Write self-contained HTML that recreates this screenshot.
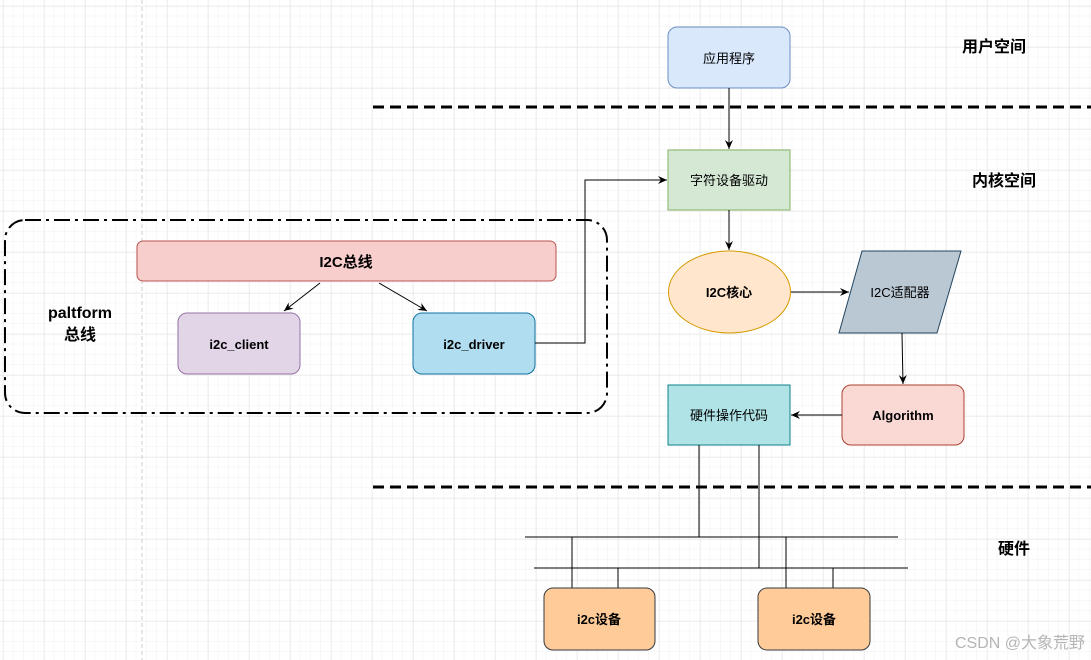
<!DOCTYPE html>
<html><head><meta charset="utf-8"><style>
html,body{margin:0;padding:0;background:#fff;}
svg{display:block;font-family:"Liberation Sans","Noto Sans CJK SC",sans-serif;}
</style></head><body>
<svg width="1091" height="660" viewBox="0 0 1091 660" xmlns="http://www.w3.org/2000/svg">
<defs>
<pattern id="minor" x="3" y="6" width="10.25" height="10.25" patternUnits="userSpaceOnUse"><path d="M10.25 0V10.25M0 10.25H10.25" stroke="#f1f1f1" stroke-width="1" fill="none"/></pattern>
<pattern id="major" x="3" y="6" width="41" height="41" patternUnits="userSpaceOnUse"><path d="M0 0V41M0 0H41" stroke="#e3e3e3" stroke-width="1" fill="none"/></pattern>
<marker id="ar" markerWidth="10" markerHeight="10" refX="9" refY="5" orient="auto" markerUnits="userSpaceOnUse"><path d="M0,1 L9,5 L0,9 L3,5 Z" fill="#000"/></marker>
</defs>
<rect width="1091" height="660" fill="#fff"/>
<rect width="1091" height="660" fill="url(#minor)"/>
<rect width="1091" height="660" fill="url(#major)"/>
<line x1="142" y1="0" x2="142" y2="660" stroke="#ccc" stroke-dasharray="4,3"/>

<!-- dashed separators -->
<line x1="373" y1="107" x2="1091" y2="107" stroke="#000" stroke-width="3" stroke-dasharray="11,6"/>
<line x1="373" y1="487" x2="1091" y2="487" stroke="#000" stroke-width="3" stroke-dasharray="11,6"/>

<!-- platform frame -->
<rect x="5" y="220" width="602" height="193" rx="20" fill="none" stroke="#000" stroke-width="2" stroke-dasharray="16,5,3,5"/>
<text x="80" y="318" font-size="16" font-weight="bold" text-anchor="middle">paltform</text>
<text x="80" y="340" font-size="16" font-weight="bold" text-anchor="middle">总线</text>

<rect x="137" y="241" width="419" height="40" rx="6" fill="#f8cecc" stroke="#b85450"/>
<text x="346" y="267" font-size="15" font-weight="bold" text-anchor="middle">I2C总线</text>
<rect x="178" y="313" width="122" height="61" rx="9" fill="#e1d5e7" stroke="#9673a6"/>
<text x="239" y="349" font-size="13" font-weight="bold" text-anchor="middle">i2c_client</text>
<rect x="413" y="313" width="122" height="61" rx="9" fill="#b1ddf0" stroke="#10739e"/>
<text x="474" y="349" font-size="13" font-weight="bold" text-anchor="middle">i2c_driver</text>
<line x1="320" y1="283" x2="284" y2="311" stroke="#000" marker-end="url(#ar)"/>
<line x1="379" y1="283" x2="427" y2="311" stroke="#000" marker-end="url(#ar)"/>
<polyline points="535,343 585,343 585,180 667,180" fill="none" stroke="#000" marker-end="url(#ar)"/>

<!-- kernel column -->
<rect x="668" y="27" width="122" height="61" rx="9" fill="#dae8fc" stroke="#6c8ebf"/>
<text x="729" y="63" font-size="13" text-anchor="middle">应用程序</text>
<line x1="729" y1="88" x2="729" y2="149" stroke="#000" marker-end="url(#ar)"/>
<rect x="668" y="150" width="122" height="60" fill="#d5e8d4" stroke="#82b366"/>
<text x="729" y="185" font-size="13" text-anchor="middle">字符设备驱动</text>
<line x1="729" y1="210" x2="729" y2="250" stroke="#000" marker-end="url(#ar)"/>
<ellipse cx="729.5" cy="292" rx="61" ry="41" fill="#ffe6cc" stroke="#d79b00"/>
<text x="729" y="297" font-size="13" font-weight="bold" text-anchor="middle">I2C核心</text>
<line x1="791" y1="292" x2="849" y2="292" stroke="#000" marker-end="url(#ar)"/>
<polygon points="862,251 961,251 937,333 839,333" fill="#bac8d3" stroke="#23445d"/>
<text x="900" y="297" font-size="13" text-anchor="middle">I2C适配器</text>
<line x1="902" y1="333" x2="903" y2="384" stroke="#000" marker-end="url(#ar)"/>
<rect x="842" y="385" width="122" height="60" rx="9" fill="#fad9d5" stroke="#ae4132"/>
<text x="903" y="420" font-size="13" font-weight="bold" text-anchor="middle">Algorithm</text>
<line x1="842" y1="415" x2="791" y2="415" stroke="#000" marker-end="url(#ar)"/>
<rect x="668" y="385" width="122" height="60" fill="#b0e3e6" stroke="#0e8088"/>
<text x="729" y="420" font-size="13" text-anchor="middle">硬件操作代码</text>

<!-- bus -->
<g stroke="#000" stroke-width="1">
<line x1="699" y1="445" x2="699" y2="537"/>
<line x1="759" y1="445" x2="759" y2="568"/>
<line x1="525" y1="537" x2="898" y2="537"/>
<line x1="534" y1="568" x2="908" y2="568"/>
<line x1="572" y1="537" x2="572" y2="588"/>
<line x1="618" y1="568" x2="618" y2="588"/>
<line x1="786" y1="537" x2="786" y2="588"/>
<line x1="833" y1="568" x2="833" y2="588"/>
</g>
<rect x="544" y="588" width="111" height="62" rx="9" fill="#ffcc99" stroke="#36393d"/>
<text x="599" y="624" font-size="13" font-weight="bold" text-anchor="middle">i2c设备</text>
<rect x="758" y="588" width="112" height="62" rx="9" fill="#ffcc99" stroke="#36393d"/>
<text x="814" y="624" font-size="13" font-weight="bold" text-anchor="middle">i2c设备</text>

<text x="994" y="52" font-size="16" font-weight="bold" text-anchor="middle">用户空间</text>
<text x="1004" y="186" font-size="16" font-weight="bold" text-anchor="middle">内核空间</text>
<text x="1014" y="554" font-size="16" font-weight="bold" text-anchor="middle">硬件</text>
<text x="1085" y="648" font-size="16" fill="#b5b5b5" text-anchor="end">CSDN @大象荒野</text>
</svg>
</body></html>
